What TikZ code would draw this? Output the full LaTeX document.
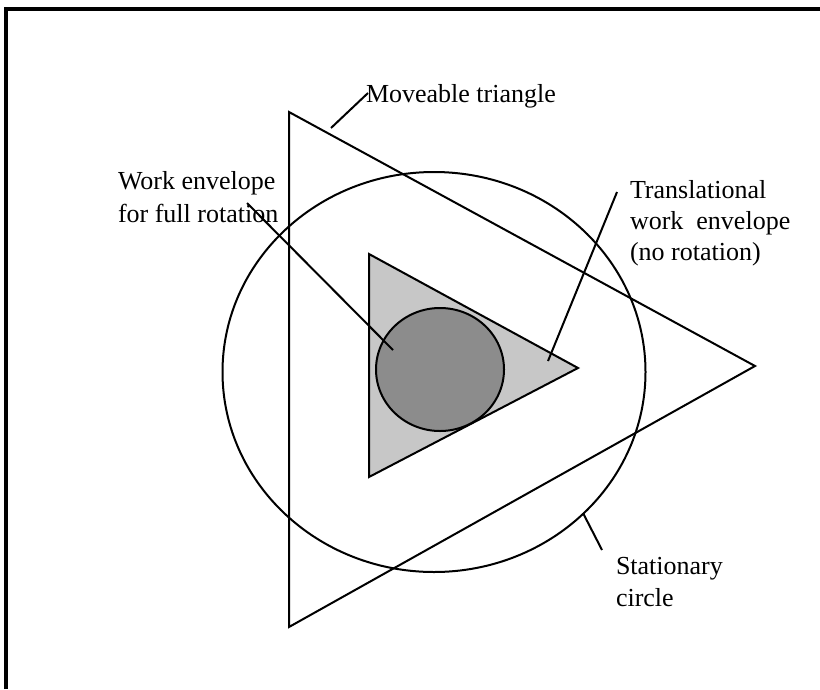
\documentclass[tikz,border=0pt]{standalone}
\usepackage{fontspec}
\setmainfont{Liberation Serif}

\begin{document}
\begin{tikzpicture}[x=0.75pt,y=-0.75pt,line width=1.5pt,
		note/.style={inner sep=0pt,anchor=base west,align=left},
		leader/.style={line width=1.5pt}]
		\useasboundingbox (0,0) rectangle (820,689);
		% frame
		\draw[line width=3pt] (6,689) -- (6,9) -- (820,9);
		% work envelopes
		\filldraw[fill=black!22] (369,254) -- (578,368) -- (369,477) -- cycle;
		\filldraw[fill=black!45] (440,369.5) ellipse [x radius=64, y radius=61.5];
		% moveable triangle and stationary circle
		\draw (289,112) -- (755,366) -- (289,627) -- cycle;
		\draw (434,372) ellipse [x radius=211.5, y radius=200];
		% labels (anchored at the last line)
		\node[note,font=\fontsize{19.5}{23}\selectfont] (moveable) at (365,102) {Moveable triangle};
		\node[note,font=\fontsize{19.5}{24.75}\selectfont] (full) at (117,222) {Work envelope\\for full rotation};
		\node[note,font=\fontsize{19.5}{23.25}\selectfont] (transl) at (629,260) {Translational\\work\ \ envelope\\(no rotation)};
		\node[note,font=\fontsize{19.5}{24}\selectfont] (stat) at (615,606) {Stationary\\circle};
		% leader ends
		\coordinate (mt) at (331,128);
		\coordinate (mtend) at (368,93);
		\coordinate (fr) at (393,350);
		\coordinate (frend) at (247,203);
		\coordinate (tr) at (548,361);
		\coordinate (trend) at (617,192);
		\coordinate (sc) at (583,513);
		\coordinate (scend) at (602,550);
		\draw[leader] (mt) -- (mtend);
		\draw[leader] (fr) -- (frend);
		\draw[leader] (tr) -- (trend);
		\draw[leader] (sc) -- (scend);
\end{tikzpicture}
\end{document}
